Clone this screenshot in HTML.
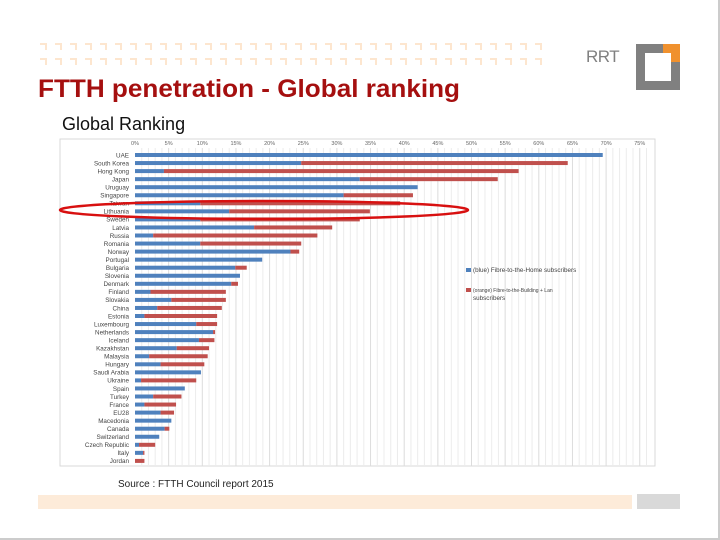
<!DOCTYPE html>
<html><head><meta charset="utf-8"><style>
body{margin:0;width:720px;height:540px;overflow:hidden;background:#fff;font-family:"Liberation Sans",sans-serif}
#page{position:relative;width:720px;height:540px;box-sizing:border-box;border-right:2px solid #ccc;border-bottom:2px solid #ccc}
</style></head><body>
<div id="page">
<svg width="720" height="540" style="position:absolute;left:0;top:0">
<defs><pattern id="dots" x="38" y="43" width="15" height="15" patternUnits="userSpaceOnUse">
<rect x="2" y="0" width="7" height="2" fill="#fde6cf"/><rect x="7" y="0" width="2" height="7" fill="#fde6cf"/></pattern></defs>
<rect x="38" y="43" width="505" height="30" fill="url(#dots)"/>
<rect x="38" y="495" width="594" height="14" fill="#fdebd9"/>
<rect x="637" y="494" width="43" height="15" fill="#d9d9d9"/>
<g>
<text x="586" y="62" font-size="17" fill="#808080" font-family="Liberation Sans" letter-spacing="-0.5">RRT</text>
<rect x="636" y="44" width="44" height="46" fill="#808080"/>
<rect x="645" y="53" width="26" height="28" fill="#fff"/>
<rect x="663" y="44" width="17" height="18" fill="#f0912e"/>
<rect x="663" y="53" width="8" height="9" fill="#fff"/>
</g>
<text x="38" y="97" font-size="25" font-weight="bold" fill="#a50f0f" textLength="422" lengthAdjust="spacingAndGlyphs">FTTH penetration - Global ranking</text>
</svg>
<div style="position:absolute;left:62px;top:114px;font-size:18px;color:#111">Global Ranking</div>
<svg id="chart" width="720" height="540" style="position:absolute;left:0;top:0"></svg>
<div style="position:absolute;left:118px;top:479px;font-size:10px;color:#222">Source : FTTH Council report 2015</div>
</div>
<script>
const countries=["UAE","South Korea","Hong Kong","Japan","Uruguay","Singapore","Taiwan","Lithuania","Sweden","Latvia","Russia","Romania","Norway","Portugal","Bulgaria","Slovenia","Denmark","Finland","Slovakia","China","Estonia","Luxembourg","Netherlands","Iceland","Kazakhstan","Malaysia","Hungary","Saudi Arabia","Ukraine","Spain","Turkey","France","EU28","Macedonia","Canada","Switzerland","Czech Republic","Italy","Jordan"];
const ftth=[69.5,24.7,4.3,33.4,42.0,31.0,9.7,14.0,9.7,17.7,2.7,9.7,23.1,18.9,14.9,15.6,14.3,2.3,5.4,3.3,1.4,9.1,11.6,9.5,6.2,2.1,3.8,9.8,0.9,7.4,2.7,1.4,3.8,5.4,4.4,3.6,0.6,1.2,0];
const fttb=[0,39.6,52.7,20.5,0,10.3,29.7,20.9,23.7,11.6,24.4,15.0,1.3,0,1.7,0,1.0,11.2,8.1,9.6,10.8,3.1,0.3,2.3,4.8,8.7,6.5,0,8.2,0,4.2,4.7,2.0,0,0.7,0,2.4,0.2,1.4];
const ticks=[0,5,10,15,20,25,30,35,40,45,50,55,60,65,70,75];
const NS="http://www.w3.org/2000/svg";
const svg=document.getElementById('chart');
const x=v=>135+v*6.73;
const y=i=>155+i*8.05;
function mk(t,a){const e=document.createElementNS(NS,t);for(const k in a)e.setAttribute(k,a[k]);svg.appendChild(e);return e;}
let f=mk('rect',{x:60,y:139,width:595,height:327,fill:'#fff',stroke:'#d9d9d9','stroke-width':1});


for(let v=1;v<=76;v++){const l=mk('line',{x1:x(v),x2:x(v),y1:148,y2:466,stroke:v%5==0?'#dcdcdc':'#ececec','stroke-width':1});

}
ticks.forEach(t=>{const e=mk('text',{x:x(t),y:145,'font-size':5.5,fill:'#666','text-anchor':'middle'});e.textContent=t+'%';

});
countries.forEach((c,i)=>{
const tl=mk('text',{x:129,y:y(i)+2.3,'font-size':6.3,fill:'#444','text-anchor':'end'});tl.textContent=c;


const b=mk('rect',{x:x(0),y:y(i)-2,width:x(ftth[i])-x(0),height:4,fill:'#4f81bd'});


const r=mk('rect',{x:x(ftth[i]),y:y(i)-2,width:x(ftth[i]+fttb[i])-x(ftth[i]),height:4,fill:'#c0504d'});


});
let e=mk('ellipse',{cx:264,cy:210,rx:204,ry:9,fill:'none',stroke:'#d81010','stroke-width':2.5});


let lb=mk('rect',{x:466,y:268,width:5,height:4,fill:'#4f81bd'});


let lt=mk('text',{x:473,y:272,'font-size':6.3,fill:'#444'});lt.textContent='(blue) Fibre-to-the-Home subscribers';


let lr=mk('rect',{x:466,y:288,width:5,height:4,fill:'#c0504d'});


let lt2=mk('text',{x:473,y:292,'font-size':5,fill:'#444'});lt2.textContent='(orange) Fibre-to-the-Building + Lan';


let lt3=mk('text',{x:473,y:300,'font-size':6.3,fill:'#444'});lt3.textContent='subscribers';


</script>
</body></html>
